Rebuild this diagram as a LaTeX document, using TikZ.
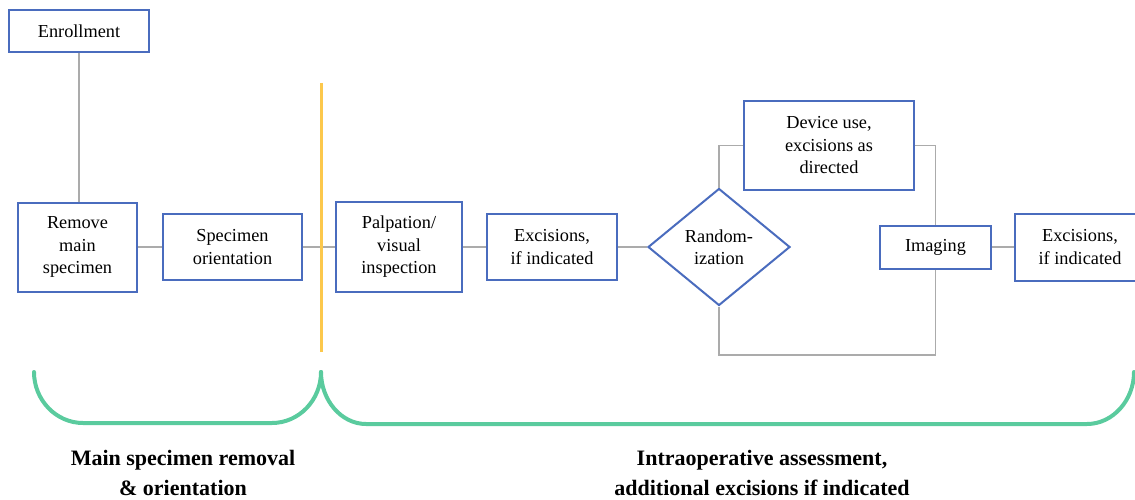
\documentclass[tikz,border=0pt]{standalone}
\usepackage{fontspec}
\setmainfont{Liberation Serif}
\usetikzlibrary{shapes.geometric}
\definecolor{boxblue}{HTML}{4A6CBE}
\definecolor{linegray}{HTML}{ABABAB}
\definecolor{divyellow}{HTML}{FCC84C}
\definecolor{bracegreen}{HTML}{5ACB9E}
\begin{document}
\begin{tikzpicture}[x=1pt,y=-1pt,
  stepbox/.style={draw=boxblue,line width=2pt,fill=white,inner sep=1pt,align=center,
    font=\fontsize{18.3}{22.5}\selectfont},
  decide/.style={diamond,draw=boxblue,line width=2pt,fill=white,inner sep=0pt,align=center,
    font=\fontsize{18.3}{22.5}\selectfont,aspect=1.21},
  conn/.style={draw=linegray,line width=1.1pt},
  brace/.style={draw=bracegreen,line width=4pt,line cap=round},
  phase/.style={align=center,font=\bfseries\fontsize{22}{30}\selectfont}]
\useasboundingbox (0,0) rectangle (1135,500);
% nodes
\node[stepbox,minimum width=140pt,minimum height=42pt] (enr) at (79,31) {Enrollment};
\node[stepbox,minimum width=119pt,minimum height=89pt] (rem) at (77.5,247) {Remove\\main\\specimen};
\node[stepbox,minimum width=139pt,minimum height=66pt] (spec) at (232.5,247) {Specimen\\orientation};
\node[stepbox,minimum width=126pt,minimum height=90pt] (palp) at (399,247) {Palpation/\\visual\\inspection};
\node[stepbox,minimum width=130pt,minimum height=66pt] (exc1) at (552,247) {Excisions,\\if indicated};
\node[decide,minimum width=142pt,minimum height=117pt] (rand) at (719,247) {Random-\\ization};
\node[stepbox,minimum width=170pt,minimum height=89pt] (dev) at (829,145.5) {Device use,\\excisions as\\directed};
\node[stepbox,minimum width=111pt,minimum height=43pt] (img) at (935.5,247) {Imaging};
\node[stepbox,minimum width=130pt,minimum height=67pt] (exc2) at (1080,247) {Excisions,\\if indicated};
\coordinate (bl) at (719,355);
% connectors
\draw[conn] (enr.south) -- (enr.south |- rem.north);
\draw[conn] (rem.east) -- (spec.west);
\draw[conn] (spec.east) -- (palp.west);
\draw[conn] (palp.east) -- (exc1.west);
\draw[conn] (exc1.east) -- (rand.west);
\draw[conn] (rand.north) |- (dev.west);
\draw[conn] (dev.east) -| (img.north);
\draw[conn] (rand.south) -- (rand.south |- bl) -| (img.south);
\draw[conn] (img.east) -- (exc2.west);
% divider
\draw[divyellow,line width=3pt] (321,83) -- (321,352);
% braces
\draw[brace] (34,372) .. controls (34,400) and (56,423) .. (83,423) -- (272,423)
  .. controls (299,423) and (321,400) .. (321,372);
\draw[brace] (321,372) .. controls (321,400) and (341,424) .. (366,424) -- (1087,424)
  .. controls (1113,424) and (1134,400) .. (1134,372);
% phase labels
\node[phase] (lab1) at (183,473) {Main specimen removal\\\& orientation};
\node[phase] (lab2) at (762,473) {Intraoperative assessment,\\additional excisions if indicated};
\end{tikzpicture}
\end{document}
